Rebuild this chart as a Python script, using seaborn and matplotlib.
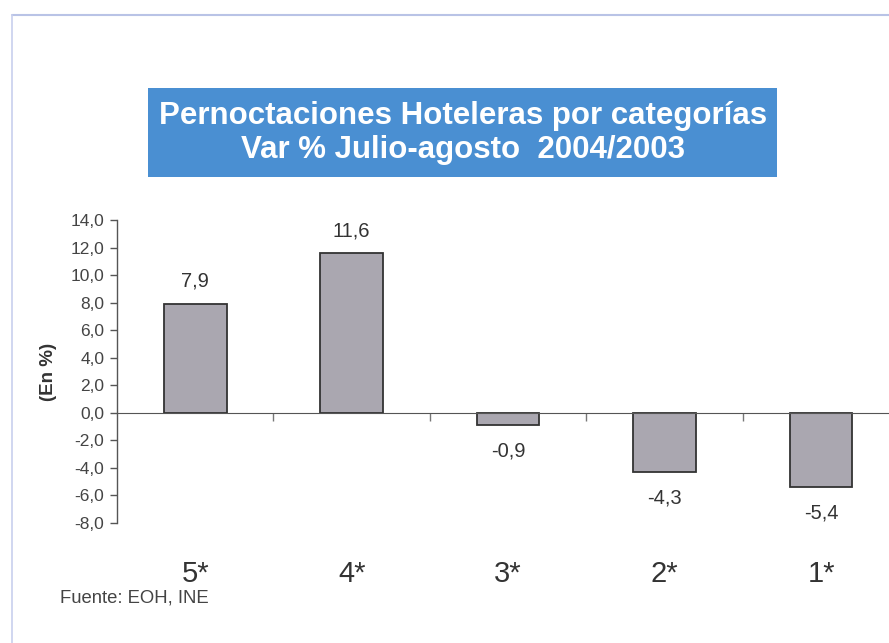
import pandas as pd
import seaborn as sns
import matplotlib.pyplot as plt
from matplotlib.patches import Rectangle
from matplotlib.lines import Line2D

categorias = ['5*', '4*', '3*', '2*', '1*']
variacion = [7.9, 11.6, -0.9, -4.3, -5.4]
etiquetas = ['7,9', '11,6', '-0,9', '-4,3', '-5,4']
yticks = [-8, -6, -4, -2, 0, 2, 4, 6, 8, 10, 12, 14]

df = pd.DataFrame({'Categoria': categorias, 'Var': variacion})

sns.set_style('white')
plt.rcParams['font.family'] = ['Liberation Sans', 'DejaVu Sans']

fig = plt.figure(figsize=(8.89, 6.43), dpi=100)
ax = fig.add_axes([0.1316, 0.1866, 0.88, 0.4712])

sns.barplot(data=df, x='Categoria', y='Var', color='#aaa7b0', width=0.4,
            edgecolor='#333333', linewidth=1.3, saturation=1, ax=ax)

ax.set_xlim(-0.5, 4.5)
ax.set_ylim(-8, 14)
ax.set_yticks(yticks)
ax.set_yticklabels([f'{v:.1f}'.replace('.', ',') for v in yticks],
                   fontsize=12.5, color='#444444')
ax.set_ylabel('(En %)', fontsize=13.5, fontweight='bold', color='#333333', labelpad=10)
ax.set_xlabel('')

# eje x en el cero, con marcas entre categorias
for s in ['top', 'right']:
    ax.spines[s].set_visible(False)
ax.spines['bottom'].set_position(('data', 0))
ax.spines['bottom'].set_color('#555555')
ax.spines['left'].set_color('#555555')
ax.spines['left'].set_linewidth(1)
ax.tick_params(axis='y', direction='out', length=5, width=1, color='#555555', left=True, pad=4)
ax.set_xticks(range(len(categorias)))
ax.set_xticklabels(categorias, fontsize=21, color='#333333')
ax.tick_params(axis='x', which='major', length=0, pad=106)
ax.set_xticks([0.5, 1.5, 2.5, 3.5], minor=True)
ax.tick_params(axis='x', which='minor', direction='out', length=6, width=1,
               color='#777777', bottom=True)

for i, (v, t) in enumerate(zip(variacion, etiquetas)):
    off = 0.95 if v > 0 else -1.2
    ax.text(i, v + off, t, ha='center', va='bottom' if v > 0 else 'top',
            fontsize=14.5, color='#333333')

# titulo en caja azul
fig.patches.append(Rectangle((148 / 889, 1 - 177 / 643), 629 / 889, 89 / 643,
                             transform=fig.transFigure, facecolor='#4a8fd2',
                             edgecolor='none'))
fig.text(463 / 889, 1 - 133 / 643,
         'Pernoctaciones Hoteleras por categorías\nVar % Julio-agosto  2004/2003',
         ha='center', va='center', color='white', fontsize=22.5,
         fontweight='bold', linespacing=1.15)

fig.text(60 / 889, 1 - 598 / 643, 'Fuente: EOH, INE', fontsize=13.3,
         color='#444444', va='center')

# marco claro
fig.lines.append(Line2D([12 / 889, 1], [1 - 15 / 643, 1 - 15 / 643],
                        transform=fig.transFigure, color='#b9c3e6', lw=1.5))
fig.lines.append(Line2D([12 / 889, 12 / 889], [1 - 15 / 643, 0],
                        transform=fig.transFigure, color='#c8d0ee', lw=1.2))

fig.savefig('out.png', dpi=100)
